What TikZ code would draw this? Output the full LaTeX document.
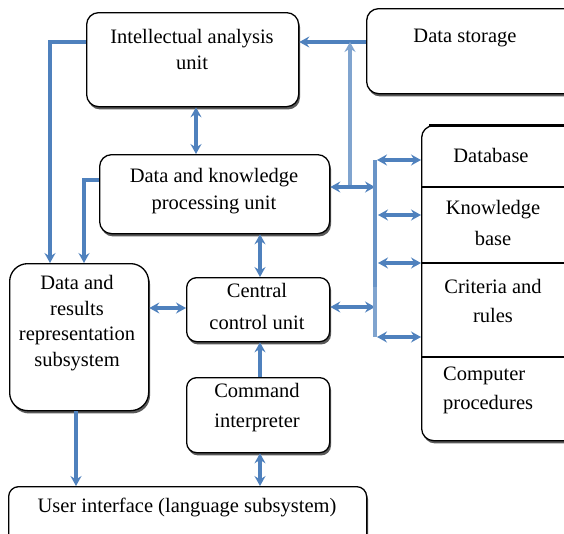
\documentclass[tikz,border=0pt]{standalone}
\usepackage{fontspec}
\setmainfont{Liberation Serif}
\usetikzlibrary{arrows.meta,shadows,calc}
\definecolor{lnblue}{RGB}{79,129,189}
\colorlet{lnlight}{lnblue!72}
\colorlet{lnmid}{lnblue!85}
\tikzset{
  box/.style={draw=black, line width=1.3pt, fill=white, rounded corners=#1,
    drop shadow={shadow xshift=1.4pt, shadow yshift=-2.8pt, fill=black!65, opacity=1},
    inner sep=0pt},
  box/.default=12pt,
  txt/.style={font=\fontsize{20.5}{26}\selectfont, align=center, inner sep=0pt},
  conn/.style={line width=3.4pt, draw=lnblue},
  tipa/.style={arrows={-Stealth[length=10pt,width=11pt,inset=3.5pt]}},
  tipb/.style={arrows={Stealth[length=10pt,width=11pt,inset=3.5pt]-Stealth[length=10pt,width=11pt,inset=3.5pt]}},
}
\begin{document}
\begin{tikzpicture}[x=1pt,y=-1pt]
\useasboundingbox (0,0) rectangle (564,533);
\fill[white] (0,0) rectangle (564,533);
% boxes
\node[box, minimum width=212pt, minimum height=94pt, anchor=north west] (ia) at (86,12) {};
\node[box, minimum width=210pt, minimum height=85pt, anchor=north west] (ds) at (366,8) {};
\node[box, minimum width=230pt, minimum height=79pt, anchor=north west] (dk) at (99,154) {};
\node[box=18pt, minimum width=139pt, minimum height=147pt, anchor=north west] (dr) at (9,263) {};
\node[box=10pt, minimum width=143pt, minimum height=64pt, anchor=north west] (cc) at (186,277) {};
\node[box=10pt, minimum width=143pt, minimum height=75pt, anchor=north west] (ci) at (186,377) {};
\node[box=10pt, minimum width=358pt, minimum height=60pt, anchor=north west] (ui) at (8,486) {};
\node[box, minimum width=170pt, minimum height=315pt, anchor=north west] (st) at (421,125) {};
\draw[line width=3pt] ([xshift=8pt]st.north west) -- ([xshift=8pt]st.north east);
\draw[line width=1.3pt] (st.west |- 0,187) -- (st.east |- 0,187);
\draw[line width=1.3pt] (st.west |- 0,263) -- (st.east |- 0,263);
\draw[line width=1.3pt] (st.west |- 0,357) -- (st.east |- 0,357);
% texts
\node[txt] (tia) at (192,49) {Intellectual analysis\\unit};
\node[txt] (tds) at (465,38) {Data storage};
\node[txt, font=\fontsize{20.5}{27}\selectfont] (tdk) at (214,191) {Data and knowledge\\processing unit};
\node[txt, font=\fontsize{20.5}{25.7}\selectfont] (tdr) at (77,323) {Data and\\results\\representation\\subsystem};
\node[txt, font=\fontsize{20.5}{32}\selectfont] (tcc) at (257,306) {Central\\control unit};
\node[txt, font=\fontsize{20.5}{30}\selectfont] (tci) at (257,408) {Command\\interpreter};
\node[txt] (tui) at (187,507) {User interface (language subsystem)};
\node[txt] (tdb) at (491,155) {Database};
\node[txt, font=\fontsize{20.5}{31}\selectfont] (tkb) at (493,223) {Knowledge\\base};
\node[txt, font=\fontsize{20.5}{29}\selectfont] (tcr) at (493,301) {Criteria and\\rules};
\node[txt, font=\fontsize{20.5}{29}\selectfont, align=left, anchor=west] (tcp) at (443,390) {Computer\\procedures};
% bus coordinates
\coordinate (bt) at (375,160);
\coordinate (bm) at (375,287);
\coordinate (bb) at (375,337);
\coordinate (vj) at (350,42);
% connectors
\draw[conn, tipa] ($(ia.north west)+(0,30)$) -| ($(dr.north west)+(41,0)$);
\draw[conn, tipa] ($(dk.north west)+(0,26)$) -| ($(dr.north west)+(75,0)$);
\draw[conn, tipb] (ia.south -| 196,0) -- (dk.north -| 196,0);
\draw[conn, tipb] (dk.south -| 260,0) -- (cc.north -| 260,0);
\draw[conn, tipa] (ci.north -| 260,0) -- (cc.south -| 260,0);
\draw[conn, tipb] (ci.south -| 260,0) -- (ui.north -| 260,0);
\draw[conn, tipa] (dr.south -| 76,0) -- (ui.north -| 76,0);
\draw[conn, tipb] (dr.east |- 0,308) -- (cc.west |- 0,308);
\draw[conn, tipb] (cc.east |- 0,307) -- (bb |- 0,307);
\draw[conn, tipa] (ds.west |- vj) -- (ia.east |- vj);
\draw[conn, draw=lnlight, tipa] (350,187) -- (vj);
\draw[conn, tipb] (dk.east |- 0,187) -- (bt |- 0,187);
\draw[conn, draw=lnmid, line cap=butt] (bt) -- (bm);
\draw[conn, draw=lnlight] (bm) -- (bb);
\draw[conn, tipb] ([xshift=2pt]bt) -- (st.west |- bt);
\draw[conn, tipb] (378,215) -- (st.west |- 0,215);
\draw[conn, tipb] (378,263) -- (st.west |- 0,263);
\draw[conn, tipb] ([xshift=2pt]bb) -- (st.west |- bb);
\end{tikzpicture}
\end{document}
